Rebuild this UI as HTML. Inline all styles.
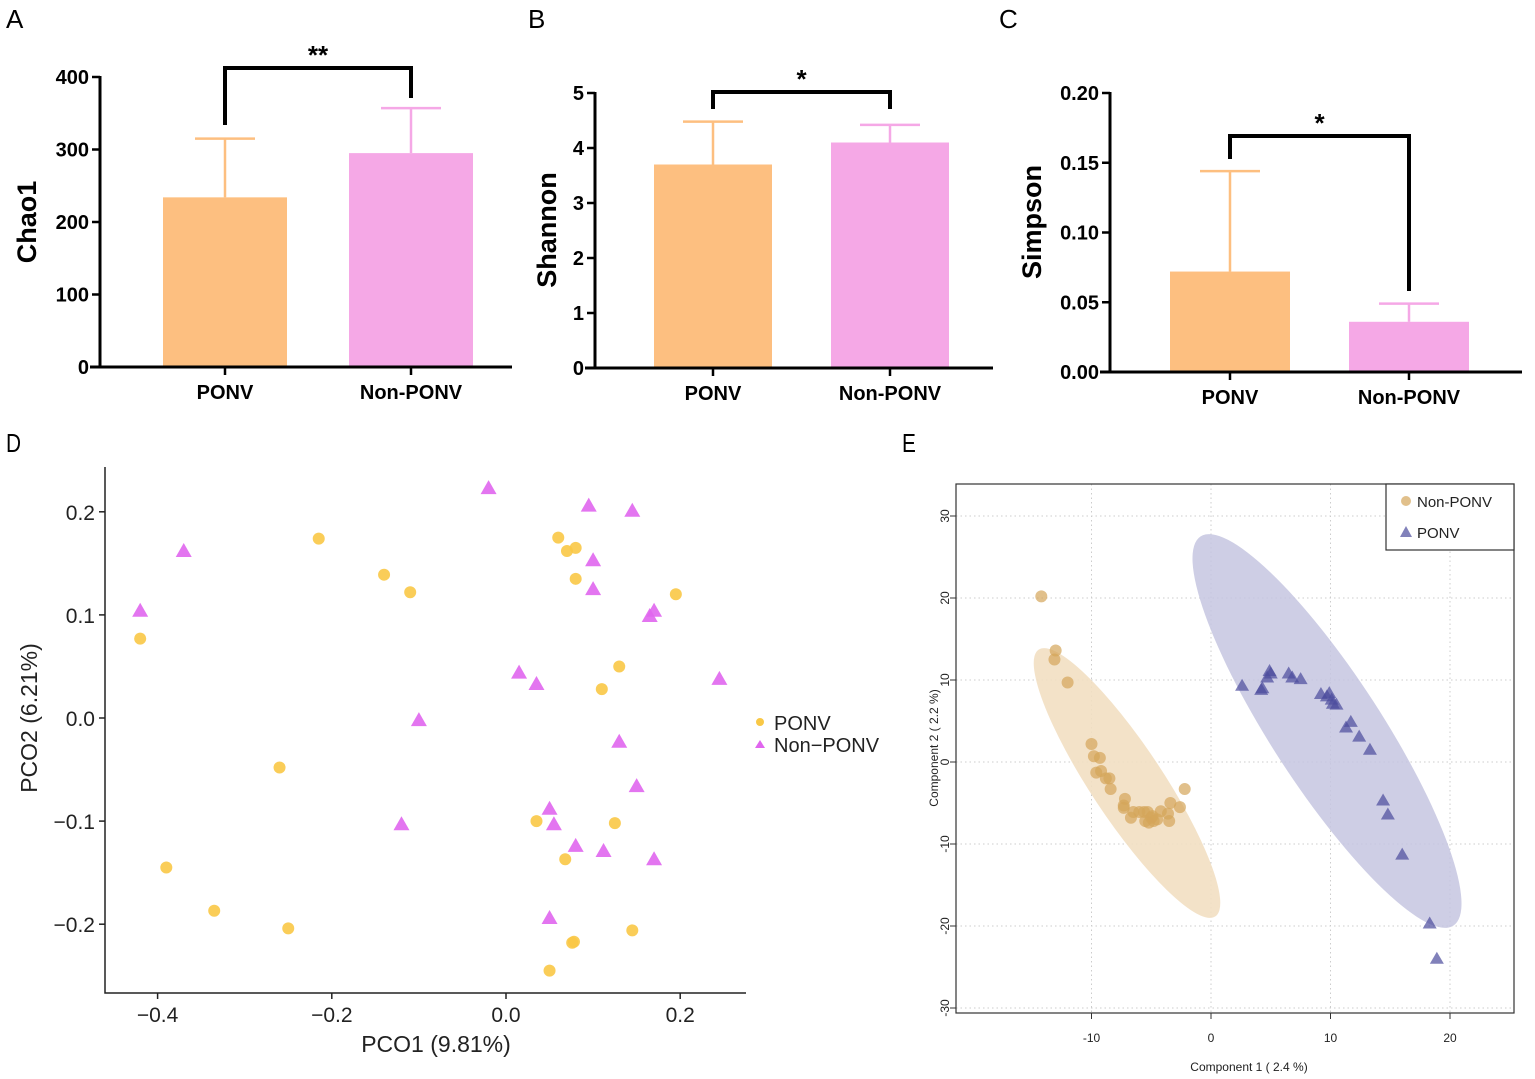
<!DOCTYPE html>
<html><head><meta charset="utf-8">
<style>
html,body{margin:0;padding:0;background:#fff;}
svg{display:block;}
text{font-family:"Liberation Sans",sans-serif;}
.b{font-weight:bold;}
</style></head>
<body>
<svg id="fig" width="1535" height="1079" viewBox="0 0 1535 1079" xmlns="http://www.w3.org/2000/svg">
<text x="6" y="28" font-size="26">A</text>
<text x="528" y="28" font-size="26">B</text>
<text x="999" y="28" font-size="26">C</text>
<text x="6" y="452" font-size="26" transform="scale(0.8,1)" style="transform-origin:6px 452px">D</text>
<text x="902" y="452" font-size="26" transform="scale(0.8,1)" style="transform-origin:902px 452px">E</text>
<g id="gA"></g>
<g id="gB"></g>
<g id="gC"></g>
<g id="gD"></g>
<g id="gE"></g>
</svg>
<script>
// ---- Bar chart data ----
const barCategories = ["PONV", "Non-PONV"];
const chaoMeans = [234, 295];
const chaoErr = [315, 357];
const chaoTicks = [0, 100, 200, 300, 400];
const shannonMeans = [3.7, 4.1];
const shannonErr = [4.48, 4.42];
const shannonTicks = [0, 1, 2, 3, 4, 5];
const simpsonMeans = [0.072, 0.036];
const simpsonErr = [0.144, 0.049];
const simpsonTicks = [0.00, 0.05, 0.10, 0.15, 0.20];

// ---- PCoA (D) data ----
const pcoPonvX = [-0.42,-0.215,-0.14,-0.11,-0.26,-0.39,-0.335,-0.25,0.06,0.07,0.08,0.08,0.195,0.13,0.11,0.035,0.125,0.068,0.078,0.076,0.145,0.05];
const pcoPonvY = [0.077,0.174,0.139,0.122,-0.048,-0.145,-0.187,-0.204,0.175,0.162,0.165,0.135,0.12,0.05,0.028,-0.1,-0.102,-0.137,-0.217,-0.218,-0.206,-0.245];
const pcoNonX = [-0.42,-0.37,-0.02,0.095,0.145,0.1,0.1,0.17,0.165,0.015,0.035,0.245,-0.1,0.13,0.15,0.05,0.055,-0.12,0.08,0.112,0.17,0.05];
const pcoNonY = [0.103,0.161,0.222,0.205,0.2,0.152,0.124,0.103,0.098,0.043,0.032,0.037,-0.003,-0.024,-0.067,-0.089,-0.104,-0.104,-0.125,-0.13,-0.138,-0.195];
const pcoXTicks = [-0.4,-0.2,0.0,0.2];
const pcoYTicks = [-0.2,-0.1,0.0,0.1,0.2];

// ---- PLS-DA (E) data ----
const plsNonX = [-14.2,-13,-13.1,-12,-10,-9.8,-9.3,-9.6,-9.2,-8.8,-8.5,-8.4,-7.2,-7.3,-7.3,-6.5,-6.7,-6,-5.6,-5.5,-5.2,-5,-4.8,-4.5,-4.2,-3.6,-3.5,-3.4,-2.6,-2.2,-5.3,-4.9];
const plsNonY = [20.2,13.6,12.5,9.7,2.2,0.7,0.5,-1.3,-1.1,-2,-2,-3.3,-4.5,-5.3,-5.6,-6.1,-6.8,-6.1,-6.1,-7.2,-7.4,-6.8,-7.2,-7,-6,-6.3,-7.2,-5,-5.5,-3.3,-6.1,-6.6];
const plsPonvX = [2.6,4.2,4.3,4.7,4.9,5,6.5,6.8,7.5,9.2,9.7,9.9,10.1,10.2,10.5,11.3,11.7,12.4,13.3,14.4,14.8,16,18.3,18.9];
const plsPonvY = [9.3,8.8,9,10.3,11.1,10.8,10.8,10.3,10.1,8.3,8,8.4,7.6,7.1,7,4.2,4.9,3.1,1.5,-4.7,-6.4,-11.3,-19.7,-24];
const plsXTicks = [-10,0,10,20];
const plsYTicks = [-30,-20,-10,0,10,20,30];

const NS = "http://www.w3.org/2000/svg";
function mk(parent, tag, attrs, text){
  const e = document.createElementNS(NS, tag);
  for (const k in attrs) e.setAttribute(k, attrs[k]);
  if (text !== undefined) e.textContent = text;
  parent.appendChild(e);
  return e;
}
const ORANGE = "#FDBF80", PINK = "#F5A8E6";

function barPanel(g, cfg){
  const y = v => cfg.y0 - (v - cfg.ticks[0]) / (cfg.ticks[cfg.ticks.length-1] - cfg.ticks[0]) * (cfg.y0 - cfg.yTop);
  const colors = [ORANGE, PINK];
  cfg.means.forEach((m, i) => {
    const [x0, x1] = cfg.bars[i];
    const cx = (x0 + x1) / 2;
    const e1 = mk(g, "line", {x1: cx, x2: cx, y1: y(m), y2: y(cfg.err[i]), stroke: colors[i], "stroke-width": 2.5});
    
    
    const e2 = mk(g, "line", {x1: cx - 30, x2: cx + 30, y1: y(cfg.err[i]), y2: y(cfg.err[i]), stroke: colors[i], "stroke-width": 2.5});
    
    
    const r = mk(g, "rect", {x: x0, y: y(m), width: x1 - x0, height: cfg.y0 - y(m), fill: colors[i]});
    
    
    const t = mk(g, "line", {x1: cx, x2: cx, y1: cfg.y0, y2: cfg.y0 + 8, stroke: "#000", "stroke-width": 2.5});
    
    
    const l = mk(g, "text", {x: cx, y: cfg.y0 + 32, "font-size": 20, "text-anchor": "middle", "class": "b"}, barCategories[i]);
    
    
  });
  const ya = mk(g, "line", {x1: cfg.x0, x2: cfg.x0, y1: cfg.yTop - 1, y2: cfg.y0 + 1.5, stroke: "#000", "stroke-width": 3});
  
  
  const xa = mk(g, "line", {x1: cfg.x0 - 10, x2: cfg.xEnd, y1: cfg.y0, y2: cfg.y0, stroke: "#000", "stroke-width": 3});
  
  
  cfg.ticks.forEach(v => {
    const t = mk(g, "line", {x1: cfg.x0 - 8, x2: cfg.x0, y1: y(v), y2: y(v), stroke: "#000", "stroke-width": 2.5});
    
    
    const l = mk(g, "text", {x: cfg.x0 - 11, y: y(v) + 7, "font-size": 20, "text-anchor": "end", "class": "b"}, v.toFixed(cfg.dec));
    
    
  });
  const yl = mk(g, "text", {x: 0, y: 0, "font-size": 27, "text-anchor": "middle", "class": "b", transform: `translate(${cfg.labelX},${cfg.labelY}) rotate(-90)`}, cfg.label);
  
  
  const c0 = (cfg.bars[0][0] + cfg.bars[0][1]) / 2, c1 = (cfg.bars[1][0] + cfg.bars[1][1]) / 2;
  const br = mk(g, "path", {d: `M${c0},${cfg.br[0]} V${cfg.br[1]} H${c1} V${cfg.br[2]}`, fill: "none", stroke: "#000", "stroke-width": 4});
  
  
  const st = mk(g, "text", {x: (c0 + c1) / 2, y: cfg.br[1] - 4, "font-size": 26, "text-anchor": "middle", "class": "b"}, cfg.star);
  
  
}

barPanel(document.getElementById("gA"), {means: chaoMeans, err: chaoErr, ticks: chaoTicks, dec: 0, x0: 100, xEnd: 512, y0: 367, yTop: 77, bars: [[163,287],[349,473]], label: "Chao1", labelX: 36, labelY: 222, br: [125, 68, 98], star: "**"});
barPanel(document.getElementById("gB"), {means: shannonMeans, err: shannonErr, ticks: shannonTicks, dec: 0, x0: 595, xEnd: 993, y0: 368, yTop: 93, bars: [[654,772],[831,949]], label: "Shannon", labelX: 556, labelY: 230, br: [109, 92, 109], star: "*"});
barPanel(document.getElementById("gC"), {means: simpsonMeans, err: simpsonErr, ticks: simpsonTicks, dec: 2, x0: 1110, xEnd: 1522, y0: 372, yTop: 93, bars: [[1170,1290],[1349,1469]], label: "Simpson", labelX: 1041, labelY: 222, br: [159, 136, 291], star: "*"});

// ---- Panel D ----
(function(){
  const g = document.getElementById("gD");
  const x = v => 506 + v * 871;
  const y = v => 718 - v * 1031;
  const ax = mk(g, "path", {d: "M105,467 V993 H746", fill: "none", stroke: "#222", "stroke-width": 1.5});
  
  
  pcoXTicks.forEach(v => {
    const t = mk(g, "line", {x1: x(v), x2: x(v), y1: 993, y2: 999, stroke: "#222", "stroke-width": 1.5});
    
    
    const l = mk(g, "text", {x: x(v), y: 1022, "font-size": 21, "text-anchor": "middle", fill: "#222"}, v.toFixed(1).replace("-", "\u2212"));
    
    
  });
  pcoYTicks.forEach(v => {
    const t = mk(g, "line", {x1: 99, x2: 105, y1: y(v), y2: y(v), stroke: "#222", "stroke-width": 1.5});
    
    
    const l = mk(g, "text", {x: 95, y: y(v) + 8, "font-size": 21, "text-anchor": "end", fill: "#222"}, v.toFixed(1).replace("-", "\u2212"));
    
    
  });
  const xt = mk(g, "text", {x: 436, y: 1052, "font-size": 23, "text-anchor": "middle", fill: "#222"}, "PCO1 (9.81%)");
  
  
  const yt = mk(g, "text", {x: 0, y: 0, "font-size": 23, "text-anchor": "middle", fill: "#222", transform: "translate(37,718) rotate(-90)"}, "PCO2 (6.21%)");
  
  
  pcoPonvX.forEach((v, i) => {
    const c = mk(g, "circle", {cx: x(v), cy: y(pcoPonvY[i]), r: 6, fill: "#F9C846", opacity: 0.9});
    
    
  });
  pcoNonX.forEach((v, i) => {
    const cx = x(v), cy = y(pcoNonY[i]);
    const p = mk(g, "polygon", {points: `${cx},${cy-9} ${cx-8},${cy+5} ${cx+8},${cy+5}`, fill: "#E066EE", opacity: 0.9});
    
    
  });
  const lc = mk(g, "circle", {cx: 760, cy: 722, r: 4, fill: "#F9C846"});
  
  
  const l1 = mk(g, "text", {x: 774, y: 730, "font-size": 20, fill: "#222"}, "PONV");
  
  
  const lt = mk(g, "polygon", {points: "760,740 755,748 765,748", fill: "#E066EE"});
  
  
  const l2 = mk(g, "text", {x: 774, y: 752, "font-size": 20, fill: "#222"}, "Non\u2212PONV");
  
  
})();

// ---- Panel E ----
(function(){
  const g = document.getElementById("gE");
  const x = v => 1211 + v * 11.95;
  const y = v => 762 - v * 8.2;
  plsXTicks.forEach(v => {
    const gl = mk(g, "line", {x1: x(v), x2: x(v), y1: 484, y2: 1013, stroke: "#ccc", "stroke-width": 1, "stroke-dasharray": "1.5,3"});
    
    
  });
  plsYTicks.forEach(v => {
    const gl = mk(g, "line", {x1: 956, x2: 1514, y1: y(v), y2: y(v), stroke: "#ccc", "stroke-width": 1, "stroke-dasharray": "1.5,3"});
    
    
  });
  const e1 = mk(g, "ellipse", {cx: 1127, cy: 783, rx: 160, ry: 36, fill: "#F2DFC2", opacity: 0.9, transform: "rotate(56.5 1127 783)"});
  
  
  const e2 = mk(g, "ellipse", {cx: 1327, cy: 731, rx: 232, ry: 55, fill: "#C5C6E0", opacity: 0.85, transform: "rotate(57 1327 731)"});
  
  
  plsNonX.forEach((v, i) => {
    const c = mk(g, "circle", {cx: x(v), cy: y(plsNonY[i]), r: 6, fill: "#D4A55A", opacity: 0.7});
    
    
  });
  plsPonvX.forEach((v, i) => {
    const cx = x(v), cy = y(plsPonvY[i]);
    const p = mk(g, "polygon", {points: `${cx},${cy-7} ${cx-7},${cy+5} ${cx+7},${cy+5}`, fill: "#4B4B9C", opacity: 0.7});
    
    
  });
  const box = mk(g, "rect", {x: 956, y: 484, width: 558, height: 529, fill: "none", stroke: "#333", "stroke-width": 1.2});
  
  
  plsXTicks.forEach(v => {
    const t = mk(g, "line", {x1: x(v), x2: x(v), y1: 1013, y2: 1019, stroke: "#333"});
    
    
    const l = mk(g, "text", {x: x(v), y: 1042, "font-size": 12, "text-anchor": "middle", fill: "#222"}, String(v));
    
    
  });
  plsYTicks.forEach(v => {
    const t = mk(g, "line", {x1: 950, x2: 956, y1: y(v), y2: y(v), stroke: "#333"});
    
    
    const l = mk(g, "text", {x: 0, y: 0, "font-size": 12, "text-anchor": "middle", fill: "#222", transform: `translate(949,${y(v)}) rotate(-90)`}, String(v));
    
    
  });
  const xt = mk(g, "text", {x: 1249, y: 1071, "font-size": 12, "text-anchor": "middle", fill: "#222"}, "Component 1 ( 2.4 %)");
  
  
  const yt = mk(g, "text", {x: 0, y: 0, "font-size": 12, "text-anchor": "middle", fill: "#222", transform: "translate(938,748) rotate(-90)"}, "Component 2 ( 2.2 %)");
  
  
  const lb = mk(g, "rect", {x: 1386, y: 484, width: 128, height: 66, fill: "#fff", stroke: "#333", "stroke-width": 1.2});
  
  
  const m1 = mk(g, "circle", {cx: 1406, cy: 501, r: 5, fill: "#D4A55A", opacity: 0.7});
  
  
  const t1 = mk(g, "text", {x: 1417, y: 507, "font-size": 15, fill: "#222"}, "Non-PONV");
  
  
  const m2 = mk(g, "polygon", {points: "1406,526 1400,537 1412,537", fill: "#4B4B9C", opacity: 0.7});
  
  
  const t2 = mk(g, "text", {x: 1417, y: 538, "font-size": 15, fill: "#222"}, "PONV");
  
  
})();
</script>
</body></html>
